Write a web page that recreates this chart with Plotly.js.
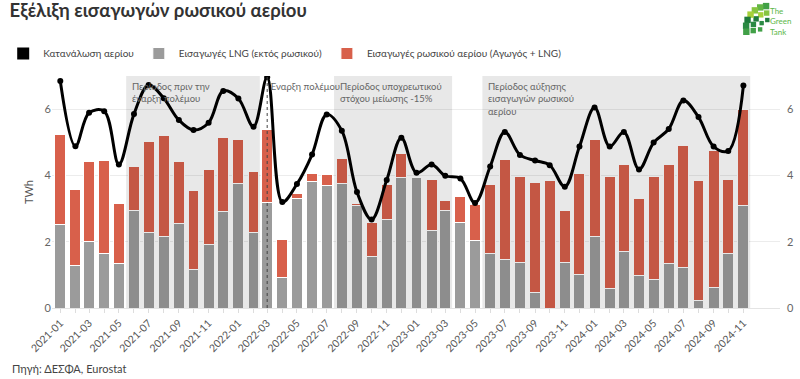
<!DOCTYPE html>
<html>
<head>
<meta charset="utf-8">
<script src="https://cdn.plot.ly/plotly-3.0.1.min.js"></script>
<style>html,body{margin:0;padding:0;background:#fff}#chart{width:800px;height:379px}</style>
</head>
<body>
<div id="chart"></div>
<script>
const months = ['2021-01','2021-02','2021-03','2021-04','2021-05','2021-06','2021-07','2021-08','2021-09','2021-10','2021-11','2021-12',
  '2022-01','2022-02','2022-03','2022-04','2022-05','2022-06','2022-07','2022-08','2022-09','2022-10','2022-11','2022-12',
  '2023-01','2023-02','2023-03','2023-04','2023-05','2023-06','2023-07','2023-08','2023-09','2023-10','2023-11','2023-12',
  '2024-01','2024-02','2024-03','2024-04','2024-05','2024-06','2024-07','2024-08','2024-09','2024-10','2024-11'];

const tickLabels = ['2021-01','2021-03','2021-05','2021-07','2021-09','2021-11','2022-01','2022-03','2022-05','2022-07','2022-09','2022-11',
  '2023-01','2023-03','2023-05','2023-07','2023-09','2023-11','2024-01','2024-03','2024-05','2024-07','2024-09','2024-11'];

const lngNonRussian = [2.51,1.27,2.01,1.64,1.34,2.93,2.27,2.17,2.55,1.16,1.92,2.90,
  3.76,2.28,3.17,0.93,3.31,3.83,3.70,3.76,3.10,1.54,2.68,3.94,
  3.94,2.35,2.95,2.58,2.04,1.64,1.45,1.38,0.47,0.00,1.38,1.01,
  2.17,0.60,1.69,0.98,0.85,1.35,1.21,0.22,0.61,1.63,3.10];

const russianImports = [2.72,2.31,2.42,2.80,1.81,1.33,2.76,3.04,1.86,2.39,2.26,2.23,
  1.33,1.84,2.21,1.13,0.15,0.23,0.34,0.75,0.05,1.04,1.06,0.72,
  0.01,1.53,0.28,0.77,1.08,2.10,3.03,2.60,3.32,3.85,1.56,3.05,
  2.90,3.38,2.65,2.32,3.13,2.97,3.69,3.63,4.13,2.25,2.90];

const consumption = [6.85,4.88,5.89,5.94,4.33,5.85,6.73,6.33,5.67,5.37,5.59,6.55,
  6.32,5.47,6.96,3.20,3.74,4.63,5.84,5.35,3.50,2.67,3.86,5.14,
  4.08,4.33,3.99,3.91,3.17,4.27,5.31,4.62,4.45,4.31,3.66,4.87,
  6.05,4.87,5.31,4.18,4.99,5.40,6.26,5.76,4.87,4.74,6.71];

const seriesNames = ['Κατανάλωση αερίου','Εισαγωγές LNG (εκτός ρωσικού)','Εισαγωγές ρωσικού αερίου (Αγωγός + LNG)'];

const periods = [
  {x0:'2021-05-16', x1:'2022-02-14', label:'Περίοδος πριν την<br>έναρξη πολέμου'},
  {x0:'2022-07-16', x1:'2023-03-15', label:'Περίοδος υποχρεωτικού<br>στόχου μείωσης -15%'},
  {x0:'2023-05-16', x1:'2024-11-15', label:'Περίοδος αύξησης<br>εισαγωγών ρωσικού<br>αερίου'}
];
const warStart = '2022-03-01';
const warLabel = 'Έναρξη πολέμου';

const FONT = 'Lato, "Noto Sans", sans-serif';
const GREY = '#9b9b9b', RED = '#d8604b';

// plot-area geometry for decorative (logo) placement
const W = 800, H = 379, mL = 52, mR = 20, mT = 76, mB = 71;
const pw = W - mL - mR, ph = H - mT - mB;
const px = v => (v - mL) / pw;
const py = v => (H - mB - v) / ph;

const traces = [
  {type:'bar', x:[null], y:[null], name:seriesNames[0], marker:{color:'#000'}, hoverinfo:'skip'},
  {type:'bar', x:months, y:lngNonRussian, name:seriesNames[1], marker:{color:GREY, line:{color:'#fff', width:1}}},
  {type:'bar', x:months, y:russianImports, name:seriesNames[2], marker:{color:RED, line:{color:'#fff', width:1}}},
  {type:'scatter', mode:'lines+markers', x:months, y:consumption, name:seriesNames[0], showlegend:false, yaxis:'y2',
   line:{color:'#000', width:3, shape:'spline', smoothing:1}, marker:{color:'#000', size:6}}
];

const shapes = periods.map(p => ({type:'rect', xref:'x', yref:'paper', x0:p.x0, x1:p.x1, y0:0, y1:1,
  fillcolor:'rgba(0,0,0,0.09)', line:{width:0}, layer:'above'}));
shapes.push({type:'line', xref:'x', yref:'paper', x0:warStart, x1:warStart, y0:0, y1:1,
  line:{color:'#444', width:1, dash:'dot'}, layer:'above'});

// logo squares (decoration)
const logoGreens = ['#a6d13a','#86c540','#63b646','#41a047','#2b8a44','#1f7a3c'];
const cx = 768, cy = 28;
[8, 15, 22].forEach((r, ri) => {
  const n = 3 + ri * 2;
  for (let k = 0; k < n; k++) {
    const a = (95 + k * (95 / (n - 1))) * Math.PI / 180;
    const sx = cx + r * Math.cos(a), sy = cy - r * Math.sin(a);
    const s = 2.2 + ri * 0.5;
    shapes.push({type:'rect', xref:'paper', yref:'paper', x0:px(sx - s), x1:px(sx + s), y0:py(sy + s), y1:py(sy - s),
      fillcolor:logoGreens[(5 - k + ri * 2) % logoGreens.length], line:{width:0}});
  }
});

const annotations = periods.map(p => ({xref:'x', yref:'paper', x:p.x0, y:py(79), xanchor:'left', yanchor:'top',
  xshift:4, text:p.label, showarrow:false, align:'left', font:{family:FONT, size:9.5, color:'#666'}}));
annotations.push({xref:'x', yref:'paper', x:warStart, y:py(79), xanchor:'left', yanchor:'top', xshift:1,
  text:warLabel, showarrow:false, align:'left', font:{family:FONT, size:9.5, color:'#666'}});
annotations.push({xref:'paper', yref:'paper', x:px(10), y:py(368), xanchor:'left', yanchor:'middle',
  text:'Πηγή: ΔΕΣΦΑ, Eurostat', showarrow:false, font:{family:FONT, size:11, color:'#444'}});
annotations.push({xref:'paper', yref:'paper', x:px(768), y:py(4), xanchor:'left', yanchor:'top',
  text:'The<br>Green<br>Tank', showarrow:false, align:'left', font:{family:FONT, size:8, color:'#5cb848'}});

const layout = {
  width:W, height:H,
  margin:{l:mL, r:mR, t:mT, b:mB, pad:0},
  paper_bgcolor:'#fff', plot_bgcolor:'#fff',
  font:{family:FONT, size:11, color:'#555'},
  title:{text:'<b>Εξέλιξη εισαγωγών ρωσικού αερίου</b>', xref:'container', yref:'container', x:0.012, xanchor:'left',
    y:0.99, yanchor:'top', font:{family:FONT, size:18.5, color:'#333'}},
  barmode:'stack', bargap:0.2,
  showlegend:true,
  legend:{orientation:'h', xref:'container', yref:'container', x:0.004, xanchor:'left', y:1 - 39/H, yanchor:'top',
    font:{family:FONT, size:10, color:'#444'}, itemwidth:30, traceorder:'normal', bgcolor:'rgba(0,0,0,0)'},
  xaxis:{type:'date', range:['2020-12-15','2025-01-15'], tickmode:'array', tickvals:tickLabels, ticktext:tickLabels,
    tickangle:-45, ticks:'outside', ticklen:4, tickcolor:'#ddd', showgrid:false, showline:false, zeroline:false,
    tickfont:{family:FONT, size:10.5, color:'#555'},
    minor:{tickmode:'array', tickvals:months, ticks:'outside', ticklen:4, tickcolor:'#ddd', showgrid:false}},
  yaxis:{range:[0,7], tickvals:[0,2,4,6], showgrid:true, gridcolor:'#ececec', zeroline:true, zerolinecolor:'#e4e4e4',
    title:{text:'TWh', font:{family:FONT, size:11, color:'#555'}, standoff:8}, tickfont:{family:FONT, size:11, color:'#666'},
    ticks:'', fixedrange:true},
  yaxis2:{range:[0,7], tickvals:[0,2,4,6], overlaying:'y', side:'right', showgrid:false, zeroline:false,
    tickfont:{family:FONT, size:11, color:'#666'}, ticks:'', ticklabelstandoff:6},
  shapes:shapes,
  annotations:annotations
};

Plotly.newPlot('chart', traces, layout, {displayModeBar:false, staticPlot:true});
</script>
</body>
</html>
